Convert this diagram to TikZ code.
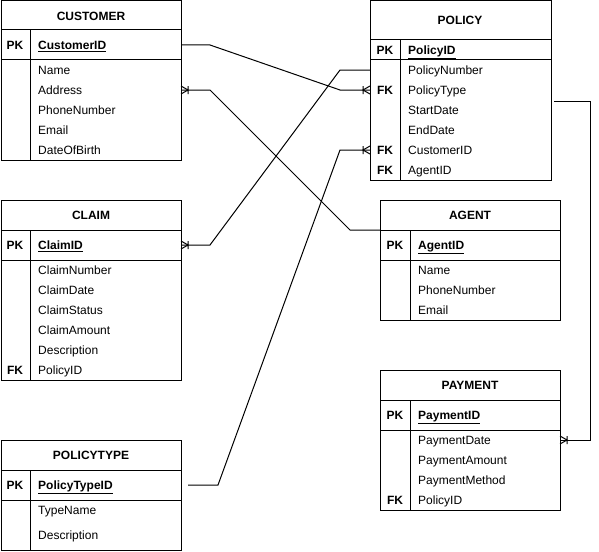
\documentclass[tikz,border=0pt]{standalone}
\usepackage{fontspec}
\setmainfont{Liberation Sans}
\usetikzlibrary{calc}
\tikzset{
  tbl/.style={draw, line width=1pt, anchor=north west, inner sep=0pt, outer sep=0pt},
  txt/.style={font=\fontsize{12}{14}\selectfont, inner sep=0pt, text height=9pt, text depth=0.5pt},
  title/.style={txt, font=\fontsize{12}{14}\selectfont\bfseries},
  key/.style={txt, font=\fontsize{12}{14}\selectfont\bfseries},
  field/.style={txt, anchor=west},
  pkfield/.style={field, font=\fontsize{12}{14}\selectfont\bfseries},
  rel/.style={line width=1pt},
  many/.pic={\draw[line width=1pt] (0,-4) -- (-7,0) -- (0,4) (-7,-4) -- (-7,4);}
}
\begin{document}
\begin{tikzpicture}[x=1pt, y=-1pt]
\useasboundingbox (0,0) rectangle (599,551);
%Each table is one box, with the title row, the key row
% and the field rows drawn inside it
% CUSTOMER
\node[tbl, minimum width=180pt, minimum height=159pt] (customer) at (1,1) {};
\draw[rel] (1,30) -- (181,30) (1,60) -- (181,60) (30,30) -- (30,160);
\node[title] (cust-t) at (91,16) {CUSTOMER};
\node[key] (cust-pk) at (15,45) {PK};
\node[pkfield] (cust-id) at (38,45) {\underline{CustomerID}};
\node[field] (cust-name) at (38,70) {Name};
\node[field] (cust-addr) at (38,90) {Address};
\node[field] (cust-phone) at (38,110) {PhoneNumber};
\node[field] (cust-mail) at (38,130) {Email};
\node[field] (cust-birth) at (38,150) {DateOfBirth};
% POLICY
\node[tbl, minimum width=181pt, minimum height=179pt] (policy) at (370,1) {};
\draw[rel] (370,40) -- (551,40) (370,60) -- (551,60) (400,40) -- (400,180);
\node[title] (pol-t) at (460,20) {POLICY};
\node[key] (pol-pk) at (385,50) {PK};
\node[pkfield] (pol-id) at (408,50) {\underline{PolicyID}};
\node[field] (pol-num) at (408,70) {PolicyNumber};
\node[key] (pol-fk1) at (385,90) {FK};
\node[field] (pol-type) at (408,90) {PolicyType};
\node[field] (pol-start) at (408,110) {StartDate};
\node[field] (pol-end) at (408,130) {EndDate};
\node[key] (pol-fk2) at (385,150) {FK};
\node[field] (pol-cust) at (408,150) {CustomerID};
\node[key] (pol-fk3) at (385,170) {FK};
\node[field] (pol-agent) at (408,170) {AgentID};
% CLAIM
\node[tbl, minimum width=180pt, minimum height=180pt] (claim) at (1,200) {};
\draw[rel] (1,230) -- (181,230) (1,260) -- (181,260) (30,230) -- (30,380);
\node[title] (claim-t) at (91,215) {CLAIM};
\node[key] (claim-pk) at (15,245) {PK};
\node[pkfield] (claim-id) at (38,245) {\underline{ClaimID}};
\node[field] (claim-num) at (38,270) {ClaimNumber};
\node[field] (claim-date) at (38,290) {ClaimDate};
\node[field] (claim-stat) at (38,310) {ClaimStatus};
\node[field] (claim-amt) at (38,330) {ClaimAmount};
\node[field] (claim-desc) at (38,350) {Description};
\node[key] (claim-fk) at (15,370) {FK};
\node[field] (claim-pol) at (38,370) {PolicyID};
% AGENT
\node[tbl, minimum width=180pt, minimum height=120pt] (agent) at (380,200) {};
\draw[rel] (380,230) -- (560,230) (380,260) -- (560,260) (410,230) -- (410,320);
\node[title] (agent-t) at (470,215) {AGENT};
\node[key] (agent-pk) at (395,245) {PK};
\node[pkfield] (agent-id) at (418,245) {\underline{AgentID}};
\node[field] (agent-name) at (418,270) {Name};
\node[field] (agent-phone) at (418,290) {PhoneNumber};
\node[field] (agent-mail) at (418,310) {Email};
\coordinate (agent-hd) at (380,230);
% PAYMENT
\node[tbl, minimum width=180pt, minimum height=140pt] (payment) at (380,370) {};
\draw[rel] (380,400) -- (560,400) (380,430) -- (560,430) (410,400) -- (410,510);
\node[title] (pay-t) at (470,385) {PAYMENT};
\node[key] (pay-pk) at (395,415) {PK};
\node[pkfield] (pay-id) at (418,415) {\underline{PaymentID}};
\node[field] (pay-date) at (418,440) {PaymentDate};
\node[field] (pay-amt) at (418,460) {PaymentAmount};
\node[field] (pay-meth) at (418,480) {PaymentMethod};
\node[key] (pay-fk) at (395,500) {FK};
\node[field] (pay-pol) at (418,500) {PolicyID};
% POLICYTYPE
\node[tbl, minimum width=180pt, minimum height=110pt] (ptype) at (1,440) {};
\draw[rel] (1,470) -- (181,470) (1,500) -- (181,500) (30,470) -- (30,550);
\node[title] (ptype-t) at (91,455) {POLICYTYPE};
\node[key] (ptype-pk) at (15,485) {PK};
\node[pkfield] (ptype-id) at (38,485) {\underline{PolicyTypeID}};
\node[field] (ptype-name) at (38,510) {TypeName};
\node[field] (ptype-desc) at (38,535) {Description};
\coordinate (pol-out) at (554,101);
% relations between the tables
\draw[rel] (customer.east |- cust-id) -- ++(29,0)
  -- ($(policy.west |- pol-type)+(-30,0)$) -- (policy.west |- pol-type);
\pic at (policy.west |- pol-type) {many};
\draw[rel] (customer.east |- cust-addr) -- ++(29,0)
  -- ($(agent-hd)+(-30,0)$) -- (agent-hd);
\pic[xscale=-1] at (customer.east |- cust-addr) {many};
\draw[rel] (claim.east |- claim-id) -- ++(29,0)
  -- ($(policy.west |- pol-num)+(-30,0)$) -- (policy.west |- pol-num);
\pic[xscale=-1] at (claim.east |- claim-id) {many};
\draw[rel] ($(ptype.east |- ptype-id)+(7,0)$) -- ++(30,0)
  -- ($(policy.west |- pol-cust)+(-30,0)$) -- (policy.west |- pol-cust);
\pic at (policy.west |- pol-cust) {many};
\draw[rel] (pol-out) -- ++(36,0) |- (payment.east |- pay-date);
\pic[xscale=-1] at (payment.east |- pay-date) {many};
\end{tikzpicture}
\end{document}
